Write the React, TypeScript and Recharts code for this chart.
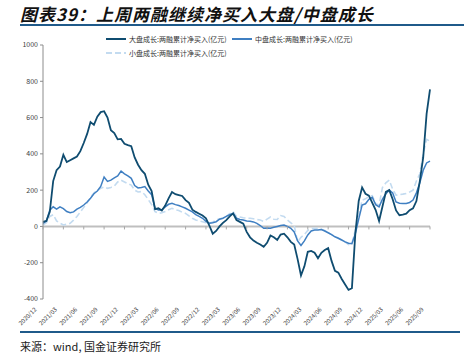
import { LineChart, Line, XAxis, YAxis, ReferenceLine } from 'recharts';

// semi-monthly points, 2020/12 .. 2025/09
const months: string[] = [];
for (let y = 2020; y <= 2025; y++) {
    for (let m = 1; m <= 12; m++) {
        if ((y === 2020 && m < 12) || (y === 2025 && m > 9)) continue;
        const mm = m < 10 ? `0${m}` : `${m}`;
        months.push(`${y}/${mm}/01`);
        if (!(y === 2025 && m === 9)) months.push(`${y}/${mm}/16`);
    }
}

const largeGrowth = [
    25, 30, 80, 250, 310, 330, 395, 355, 365, 375, 385, 415, 460, 510, 575, 560, 605, 630, 635, 600,
    530, 515, 480, 482, 455, 448, 442, 380, 340, 310, 290, 230, 195, 95, 100, 88, 115, 155, 190, 178,
    173, 168, 145, 130, 92, 80, 70, 60, 45, 5, -40, -25, 0, 20, 35, 55, 72, 35, 25, 15,
    -30, -60, -78, -90, -100, -112, -90, -50, -60, -75, -45, -40, -60, -85, -100, -180, -270, -220, -140, -135,
    -145, -175, -145, -130, -120, -190, -245, -255, -290, -320, -350, -340, -40, 140, 215, 180, 170, 130, 90, 30,
    110, 190, 200, 150, 88, 62, 65, 70, 90, 100, 140, 250, 380, 620, 755,
];

const midGrowth = [
    17, 30, 90, 108, 95, 108, 98, 82, 75, 80, 95, 105, 118, 135, 155, 180, 195, 220, 272, 248,
    255, 268, 278, 305, 290, 278, 265, 225, 212, 215, 220, 195, 175, 100, 90, 92, 108, 122, 127, 120,
    115, 108, 100, 90, 80, 65, 55, 45, 28, 18, 20, 26, 40, 45, 55, 65, 72, 45, 38, 35,
    30, 28, 25, 17, 5, -10, -8, -10, -5, 0, 5, 8, 0, -10, -30, -80, -105, -80, -47, -25,
    -20, -20, -17, -25, -35, -45, -57, -65, -75, -85, -93, -95, -40, 40, 118, 125, 150, 160, 120, 108,
    150, 180, 200, 185, 135, 128, 127, 127, 132, 145, 185, 240, 310, 350, 360,
];

const smallGrowth = [
    8, 20, 55, 65, 30, 18, 8, 12, 17, 35, 55, 80, 105, 130, 160, 185, 198, 210, 218, 210,
    215, 222, 245, 255, 245, 235, 228, 200, 190, 192, 175, 148, 120, 82, 72, 75, 82, 92, 100, 92,
    88, 78, 72, 58, 45, 36, 30, 26, 20, 17, 25, 35, 42, 45, 55, 70, 82, 55, 52, 48,
    45, 45, 42, 38, 35, 28, 40, 52, 40, 38, 60, 55, 35, 20, 5, -85, -60, -45, -22, -12,
    -10, -10, -15, -22, -35, -45, -55, -65, -75, -85, -100, -95, -20, 55, 145, 152, 165, 170, 125, 118,
    215, 240, 255, 205, 172, 175, 178, 182, 190, 200, 250, 290, 400, 480, 470,
];

const yTicks = [-400, -200, 0, 200, 400, 600, 800, 1000];

const data = months.map((d, i) => ({
    date: d,
    large: largeGrowth[i],
    mid: midGrowth[i],
    small: smallGrowth[i],
}));

const COLORS = {
    large: '#0f4c70',
    mid: '#3f7fc2',
    small: '#c3dbf0',
};

const PLOT_TOP = 45;
const PLOT_H = 254;
const ZERO_Y = PLOT_TOP + (PLOT_H * 1000) / 1400;

const QuarterTick = (props: any) => {
    const { x, y, payload } = props;
    const ax = x - 6;
    const ay = y + 3;
    return (
        <g>
            <line x1={x} x2={x} y1={ZERO_Y} y2={ZERO_Y + 3} stroke="#a6a6a6" />
            <text x={ax} y={ay} transform={`rotate(-45 ${ax} ${ay})`} textAnchor="end" fontSize={6} fill="#404040">
                {String(payload.value).slice(0, 7)}
            </text>
        </g>
    );
};

const LegendBox = () => (
    <div style={{ position: 'absolute', left: 0, top: 34, width: 464, height: 30, fontSize: 7, color: '#333' }}>
        <div style={{ position: 'absolute', left: 106, top: 0, display: 'flex', alignItems: 'center' }}>
            <svg width={20} height={6}><line x1={0} x2={20} y1={3} y2={3} stroke={COLORS.large} strokeWidth={2} /></svg>
            <span style={{ marginLeft: 3 }}>大盘成长:两融累计净买入(亿元)</span>
        </div>
        <div style={{ position: 'absolute', left: 232, top: 0, display: 'flex', alignItems: 'center' }}>
            <svg width={20} height={6}><line x1={0} x2={20} y1={3} y2={3} stroke={COLORS.mid} strokeWidth={2} /></svg>
            <span style={{ marginLeft: 3 }}>中盘成长:两融累计净买入(亿元)</span>
        </div>
        <div style={{ position: 'absolute', left: 106, top: 14, display: 'flex', alignItems: 'center' }}>
            <svg width={20} height={6}><line x1={0} x2={20} y1={3} y2={3} stroke={COLORS.small} strokeWidth={2} strokeDasharray="6 3" /></svg>
            <span style={{ marginLeft: 3 }}>小盘成长:两融累计净买入(亿元)</span>
        </div>
    </div>
);

const App = () => (
    <div style={{ position: 'absolute', left: 0, top: 0, width: 464, height: 353, background: '#fff', fontFamily: '"Noto Sans CJK SC", sans-serif' }}>
        <div style={{ position: 'absolute', left: 20, top: 1, fontSize: 17, letterSpacing: 1, fontWeight: 700, fontStyle: 'italic', color: '#111', whiteSpace: 'nowrap' }}>
            图表39：上周两融继续净买入大盘/中盘成长
        </div>
        <div style={{ position: 'absolute', left: 20, top: 24, width: 444, height: 2, background: '#1f5a8a' }} />
        <div style={{ position: 'absolute', left: 0, top: 0 }}>
            <LineChart width={464} height={353} data={data} margin={{ top: PLOT_TOP, right: 34, left: 0, bottom: 0 }}>
                <ReferenceLine y={0} stroke="#bfbfbf" strokeWidth={2} />
                <XAxis
                    dataKey="date"
                    interval={5}
                    height={54}
                    axisLine={false}
                    tickLine={false}
                    tick={<QuarterTick />}
                />
                <YAxis
                    width={43}
                    domain={[-400, 1000]}
                    ticks={yTicks}
                    interval={0}
                    tickSize={3}
                    tickMargin={2}
                    axisLine={{ stroke: '#8c8c8c' }}
                    tickLine={{ stroke: '#8c8c8c' }}
                    tick={{ fontSize: 7, fill: '#404040' }}
                />
                <Line dataKey="small" stroke={COLORS.small} strokeWidth={1.6} strokeDasharray="6 3" dot={false} isAnimationActive={false} />
                <Line dataKey="mid" stroke={COLORS.mid} strokeWidth={1.5} dot={false} isAnimationActive={false} />
                <Line dataKey="large" stroke={COLORS.large} strokeWidth={1.8} dot={false} isAnimationActive={false} />
            </LineChart>
        </div>
        <LegendBox />
        <div style={{ position: 'absolute', left: 20, top: 331, width: 440, height: 2, background: '#1f5a8a' }} />
        <div style={{ position: 'absolute', left: 20, top: 338, fontSize: 11, color: '#1a1a1a', whiteSpace: 'nowrap' }}>
            来源：wind, 国金证券研究所
        </div>
    </div>
);

export default App;
